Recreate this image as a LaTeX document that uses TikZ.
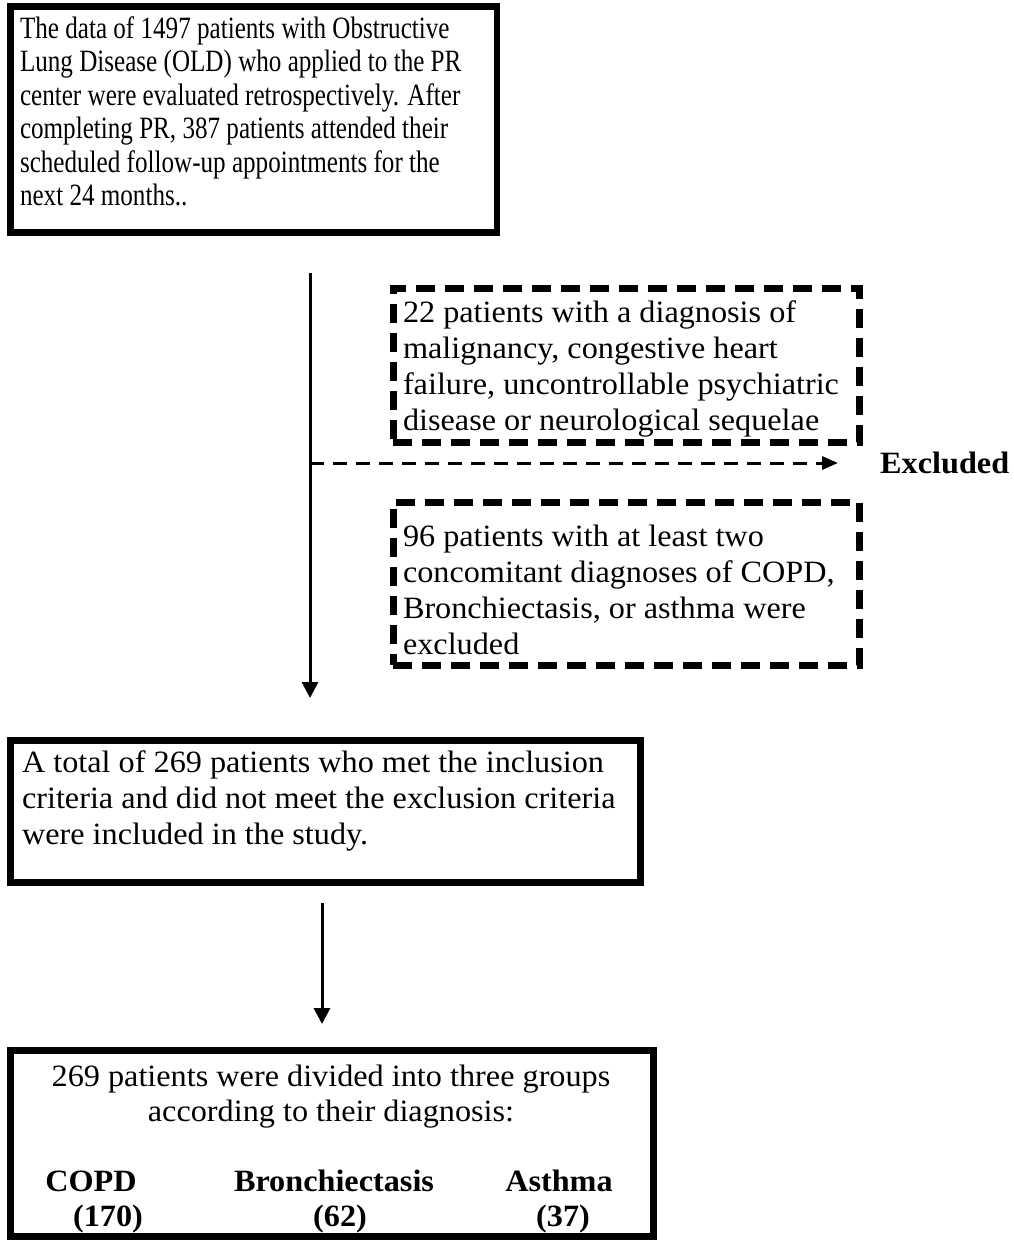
\documentclass[tikz,border=0pt]{standalone}
\usepackage{fontspec}
\setmainfont{Liberation Serif}[FakeStretch=1.04]
\newfontfamily\narrowfont{Liberation Serif}[FakeStretch=0.81]
\usetikzlibrary{arrows.meta}
\begin{document}
\begin{tikzpicture}[x=1pt,y=-1pt,
  solidbox/.style={draw, line width=6.5pt, inner sep=0pt, outer sep=0pt},
  dashbox/.style={draw, line width=7pt, dash pattern=on 19pt off 10pt, inner sep=0pt, outer sep=0pt},
  txt/.style={anchor=base west, inner sep=0pt, outer sep=0pt, font=\fontsize{31}{36}\selectfont},
  ctxt/.style={anchor=base, inner sep=0pt, outer sep=0pt, font=\fontsize{31}{35}\selectfont},
  btxt/.style={anchor=base, inner sep=0pt, outer sep=0pt, font=\fontsize{31}{35}\selectfont\bfseries},
  conn/.style={line width=3pt, -{Triangle[length=16pt,width=16pt]}},
  dconn/.style={line width=3pt, dash pattern=on 14pt off 9pt, -{Triangle[length=16pt,width=13pt]}}
]
\useasboundingbox (0,0) rectangle (1013,1240);
\fill[white] (0,0) rectangle (1013,1240);

% boxes
\node[solidbox, minimum width=486.5pt, minimum height=226.4pt] (top) at (253.75,119.5) {};
\node[dashbox, minimum width=466pt, minimum height=154pt] (ex1) at (626,365) {};
\node[dashbox, minimum width=466pt, minimum height=163pt] (ex2) at (626,583.5) {};
\node[solidbox, minimum width=630.4pt, minimum height=142.4pt] (mid) at (325.5,811.5) {};
\node[solidbox, minimum width=643.4pt, minimum height=186.4pt] (bot) at (332,1143.5) {};

% texts
\node[txt, font=\narrowfont\fontsize{31}{33.5}\selectfont] (toptxt) at (20,38) {\parbox[t]{470pt}{\raggedright
The data of 1497 patients with Obstructive\\
Lung Disease (OLD) who applied to the PR\\
center were evaluated retrospectively. After\\
completing PR, 387 patients attended their\\
scheduled follow-up appointments for the\\
next 24 months..}};

\node[txt] (ex1txt) at (403,322) {\parbox[t]{450pt}{\raggedright
22 patients with a diagnosis of\\
malignancy, congestive heart\\
failure, uncontrollable psychiatric\\
disease or neurological sequelae}};

\node[txt] (ex2txt) at (403,546) {\parbox[t]{450pt}{\raggedright
96 patients with at least two\\
concomitant diagnoses of COPD,\\
Bronchiectasis, or asthma were\\
excluded}};

\node[txt] (midtxt) at (22,772) {\parbox[t]{620pt}{\raggedright
A total of 269 patients who met the inclusion\\
criteria and did not meet the exclusion criteria\\
were included in the study.}};

\node[ctxt] (bottxt) at (331,1086) {\parbox[t]{630pt}{\centering
269 patients were divided into three groups\\
according to their diagnosis:}};

\node[btxt] (copd) at (91,1191) {COPD};
\node[btxt] (copdn) at (108,1226) {(170)};
\node[btxt] (bron) at (334,1191) {Bronchiectasis};
\node[btxt] (bronn) at (340,1226) {(62)};
\node[btxt] (asth) at (559,1191) {Asthma};
\node[btxt] (asthn) at (563,1226) {(37)};

\node[anchor=base west, inner sep=0pt, font=\fontsize{31}{36}\selectfont\bfseries] (excl) at (880,473) {Excluded};

% connectors
\coordinate (v1s) at (310,273);
\coordinate (v1e) at (310,698);
\coordinate (hs) at (310,463);
\coordinate (he) at (838,463);
\coordinate (v2s) at (322,903);
\coordinate (v2e) at (322,1024);
\draw[conn] (v1s) -- (v1e);
\draw[dconn] (hs) -- (he);
\draw[conn] (v2s) -- (v2e);
\end{tikzpicture}
\end{document}
